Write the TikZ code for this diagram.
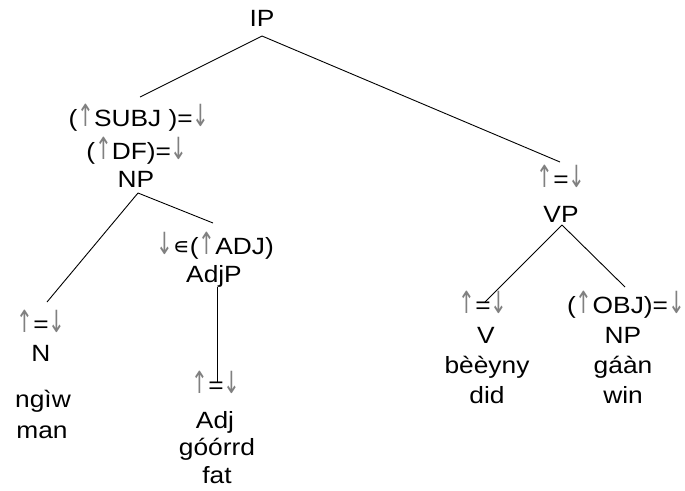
\documentclass[tikz,border=0pt]{standalone}
\usepackage{fontspec}
\setmainfont{Liberation Sans}[FakeStretch=1.12]
\newfontfamily\symf{DejaVu Sans}
\definecolor{arrowgray}{gray}{0.5}
\newcommand{\upa}{\textcolor{arrowgray}{\scalebox{0.85}[1.3]{\symf ↑}}}
\newcommand{\dna}{\textcolor{arrowgray}{\scalebox{0.85}[1.3]{\symf ↓}}}
\begin{document}
\begin{tikzpicture}[x=1pt,y=-1pt,
  lbl/.style={anchor=base, inner sep=0pt, text=black, font=\fontsize{23.5}{27}\selectfont},
  edge/.style={draw=black, line width=0.9pt}]
\useasboundingbox (0,0) rectangle (685,490);
% labels
\node[lbl] (IP) at (262,26.5) {IP};
\node[lbl] (subj) at (139,126) {(\upa SUBJ )=\dna};
\node[lbl] (df) at (137,159) {(\upa DF)=\dna};
\node[lbl] (NPa) at (136,187) {NP};
\node[lbl] (adjann) at (215,254) {\dna{\symf ∊}(\upa ADJ)};
\node[lbl] (AdjP) at (214,282) {AdjP};
\node[lbl] (Nann) at (41,332) {\upa=\dna};
\node[lbl] (N) at (41,361) {N};
\node[lbl] (ngiw) at (43,407) {ngìw};
\node[lbl] (man) at (42,438) {man};
\node[lbl] (Adjann) at (216,393) {\upa=\dna};
\node[lbl] (Adj) at (215,428) {Adj};
\node[lbl] (goorrd) at (217,455) {góórrd};
\node[lbl] (fat) at (217,483) {fat};
\node[lbl] (VPann) at (561,187) {\upa=\dna};
\node[lbl] (VP) at (561,222) {VP};
\node[lbl] (Vann) at (483,313) {\upa=\dna};
\node[lbl] (V) at (486,343) {V};
\node[lbl] (beeyny) at (487,373) {bèèyny};
\node[lbl] (did) at (487,403) {did};
\node[lbl] (objann) at (626,313) {(\upa OBJ)=\dna};
\node[lbl] (NPb) at (623,343) {NP};
\node[lbl] (gaan) at (623,373) {gáàn};
\node[lbl] (win) at (623,403) {win};
% connector ends
\coordinate (IPbot) at (262,36);
\coordinate (subjtop) at (140,97);
\coordinate (VPanntop) at (560,162);
\coordinate (NPbot) at (138,193);
\coordinate (Nanntop) at (47,302);
\coordinate (adjanntop) at (213,223);
\coordinate (AdjPbot) at (217,287);
\coordinate (Adjanntop) at (217,382);
\coordinate (VPbot) at (562,225);
\coordinate (Vanntop) at (485,302);
\coordinate (objanntop) at (625,287);
% connectors
\draw[edge] (IPbot) -- (subjtop);
\draw[edge] (IPbot) -- (VPanntop);
\draw[edge] (NPbot) -- (Nanntop);
\draw[edge] (NPbot) -- (adjanntop);
\draw[edge] (AdjPbot) -- (Adjanntop);
\draw[edge] (VPbot) -- (Vanntop);
\draw[edge] (VPbot) -- (objanntop);
\end{tikzpicture}
\end{document}
